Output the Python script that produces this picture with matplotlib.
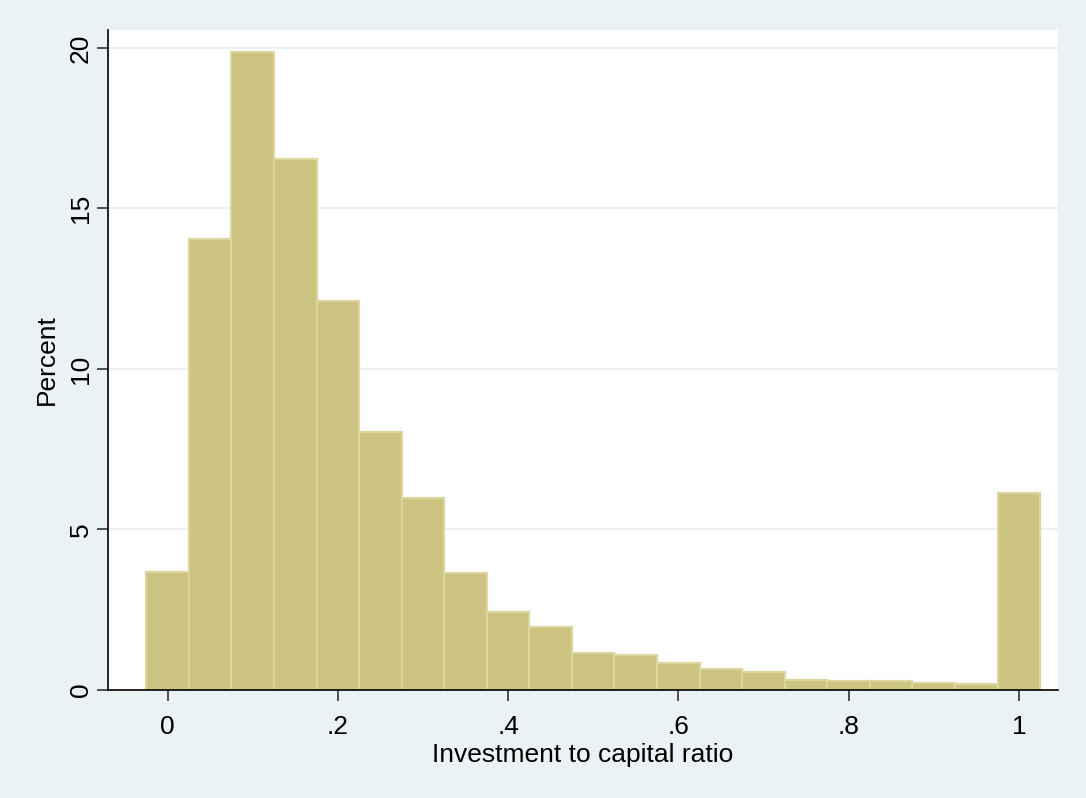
import matplotlib
matplotlib.use("Agg")
import matplotlib.pyplot as plt

# histogram of investment/capital ratio, bin width .05
bin_centers = [0.0, 0.05, 0.10, 0.15, 0.20, 0.25, 0.30, 0.35, 0.40, 0.45, 0.50,
               0.55, 0.60, 0.65, 0.70, 0.75, 0.80, 0.85, 0.90, 0.95, 1.0]
percent = [3.69, 14.04, 19.89, 16.54, 12.13, 8.03, 5.98, 3.65, 2.44, 1.97, 1.16,
           1.09, 0.84, 0.66, 0.55, 0.32, 0.29, 0.28, 0.23, 0.18, 6.13]
bin_width = 0.05

xticks = [0, 0.2, 0.4, 0.6, 0.8, 1.0]
xtick_labels = ["0", ".2", ".4", ".6", ".8", "1"]
yticks = [0, 5, 10, 15, 20]

plt.rcParams['font.family'] = ['Liberation Sans', 'DejaVu Sans']

bg = '#EAF2F3'
fig = plt.figure(figsize=(10.86, 7.98), dpi=100, facecolor=bg)
ax = fig.add_axes([108 / 1086, 1 - 690 / 798, (1058 - 108) / 1086, (690 - 30) / 798])
ax.set_facecolor('white')

for y in yticks[1:]:
    ax.axhline(y, color=bg, lw=1.6, zorder=0)

ax.bar(bin_centers, percent, width=bin_width, color='#CBC37F',
       edgecolor='#DCD69E', linewidth=1.6, zorder=2)

ax.set_xlim(-0.070, 1.046)
ax.set_ylim(0, 20.56)

ax.set_xticks(xticks)
ax.set_xticklabels(xtick_labels)
ax.set_yticks(yticks)
ax.set_yticklabels([str(v) for v in yticks], rotation=90, va='center')

for s in ['top', 'right']:
    ax.spines[s].set_visible(False)
for s in ['left', 'bottom']:
    ax.spines[s].set_color('black')
    ax.spines[s].set_linewidth(1.2)

ax.tick_params(axis='x', length=8, width=1.2, color='#333333', labelsize=19, pad=10)
ax.tick_params(axis='y', length=8, width=1.2, color='#333333', labelsize=19, pad=3)

ax.set_xlabel("Investment to capital ratio", fontsize=19, labelpad=3)
ax.set_ylabel("Percent", fontsize=19, labelpad=7)

plt.savefig("out.png", dpi=100, facecolor=bg)
